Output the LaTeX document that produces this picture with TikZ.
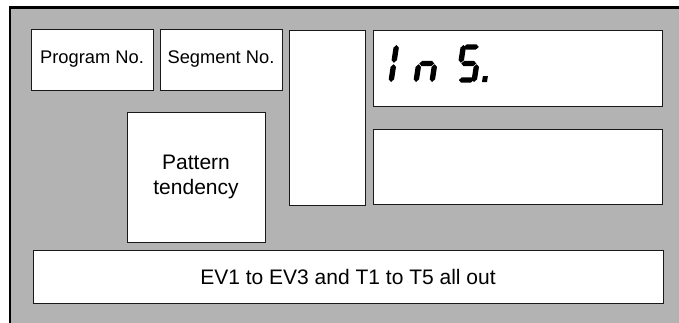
\documentclass[tikz,border=0pt]{standalone}
\usepackage{fontspec}
\setmainfont{Liberation Sans}
\usepackage{tikz}
\usetikzlibrary{positioning}
\definecolor{panel}{RGB}{179,179,179}
% seven segment pieces, local units, v upwards
\newcommand{\hseg}[3]{\fill (#2,#1) -- (#2+2.7,#1+2.7) -- (#3-2.7,#1+2.7) -- (#3,#1) -- (#3-2.7,#1-2.7) -- (#2+2.7,#1-2.7) -- cycle;}
\newcommand{\vseg}[3]{\fill (#1,#2) -- (#1+2.7,#2+2.7) -- (#1+2.7,#3-2.7) -- (#1,#3) -- (#1-2.7,#3-2.7) -- (#1-2.7,#2+2.7) -- cycle;}

\begin{document}
\begin{tikzpicture}[x=1pt, y=-1pt,
  box/.style={draw=black!90, fill=white, line width=1pt, inner sep=0pt},
  lbl/.style={font=\fontsize{18.3}{21}\selectfont},
  big/.style={font=\fontsize{21}{25}\selectfont, align=center},
  lcd/.style={x=1pt, y=1pt, xslant=0.15}]
\useasboundingbox (0,0) rectangle (679,322);
% panel
\draw[line width=2.5pt, fill=panel] (10,7.5) rectangle (700,340);
% top row
\node[box, lbl, minimum width=122pt, minimum height=61pt] (prog) at (92,59.5) {Program No.};
\node[box, lbl, minimum width=122pt, minimum height=61pt] (seg) at (221,59.5) {Segment No.};
\node[box, minimum width=76pt, minimum height=175pt] (bar) at (327,117.5) {};
\node[box, big, minimum width=138pt, minimum height=130pt] (trend) at (196,177) {Pattern\\tendency};
\node[box, minimum width=289pt, minimum height=76pt] (upper) at (517.5,68) {};
\node[box, minimum width=289pt, minimum height=75pt] (lower) at (517.5,166.5) {};
\node[box, big, minimum width=630pt, minimum height=53pt] (msg) at (348,276.5) {EV1 to EV3 and T1 to T5 all out};
% LCD text in upper display
\begin{scope}[shift={(374,82)}, lcd]
\vseg{17}{19.2}{37} \vseg{17}{0}{17.8}
\end{scope}
\begin{scope}[shift={(415,82)}, lcd]
\hseg{18.5}{1.5}{16.5} \vseg{1}{0}{17.8} \vseg{17}{0}{17.8}
\end{scope}
\begin{scope}[shift={(457,82)}, lcd]
\hseg{35}{1.5}{16.5} \vseg{1}{19.2}{37} \hseg{18.5}{1.5}{16.5}
\vseg{17}{0}{17.8} \hseg{2}{1.5}{16.5}
\fill (25,0) rectangle (30,6);
\end{scope}
\end{tikzpicture}
\end{document}
